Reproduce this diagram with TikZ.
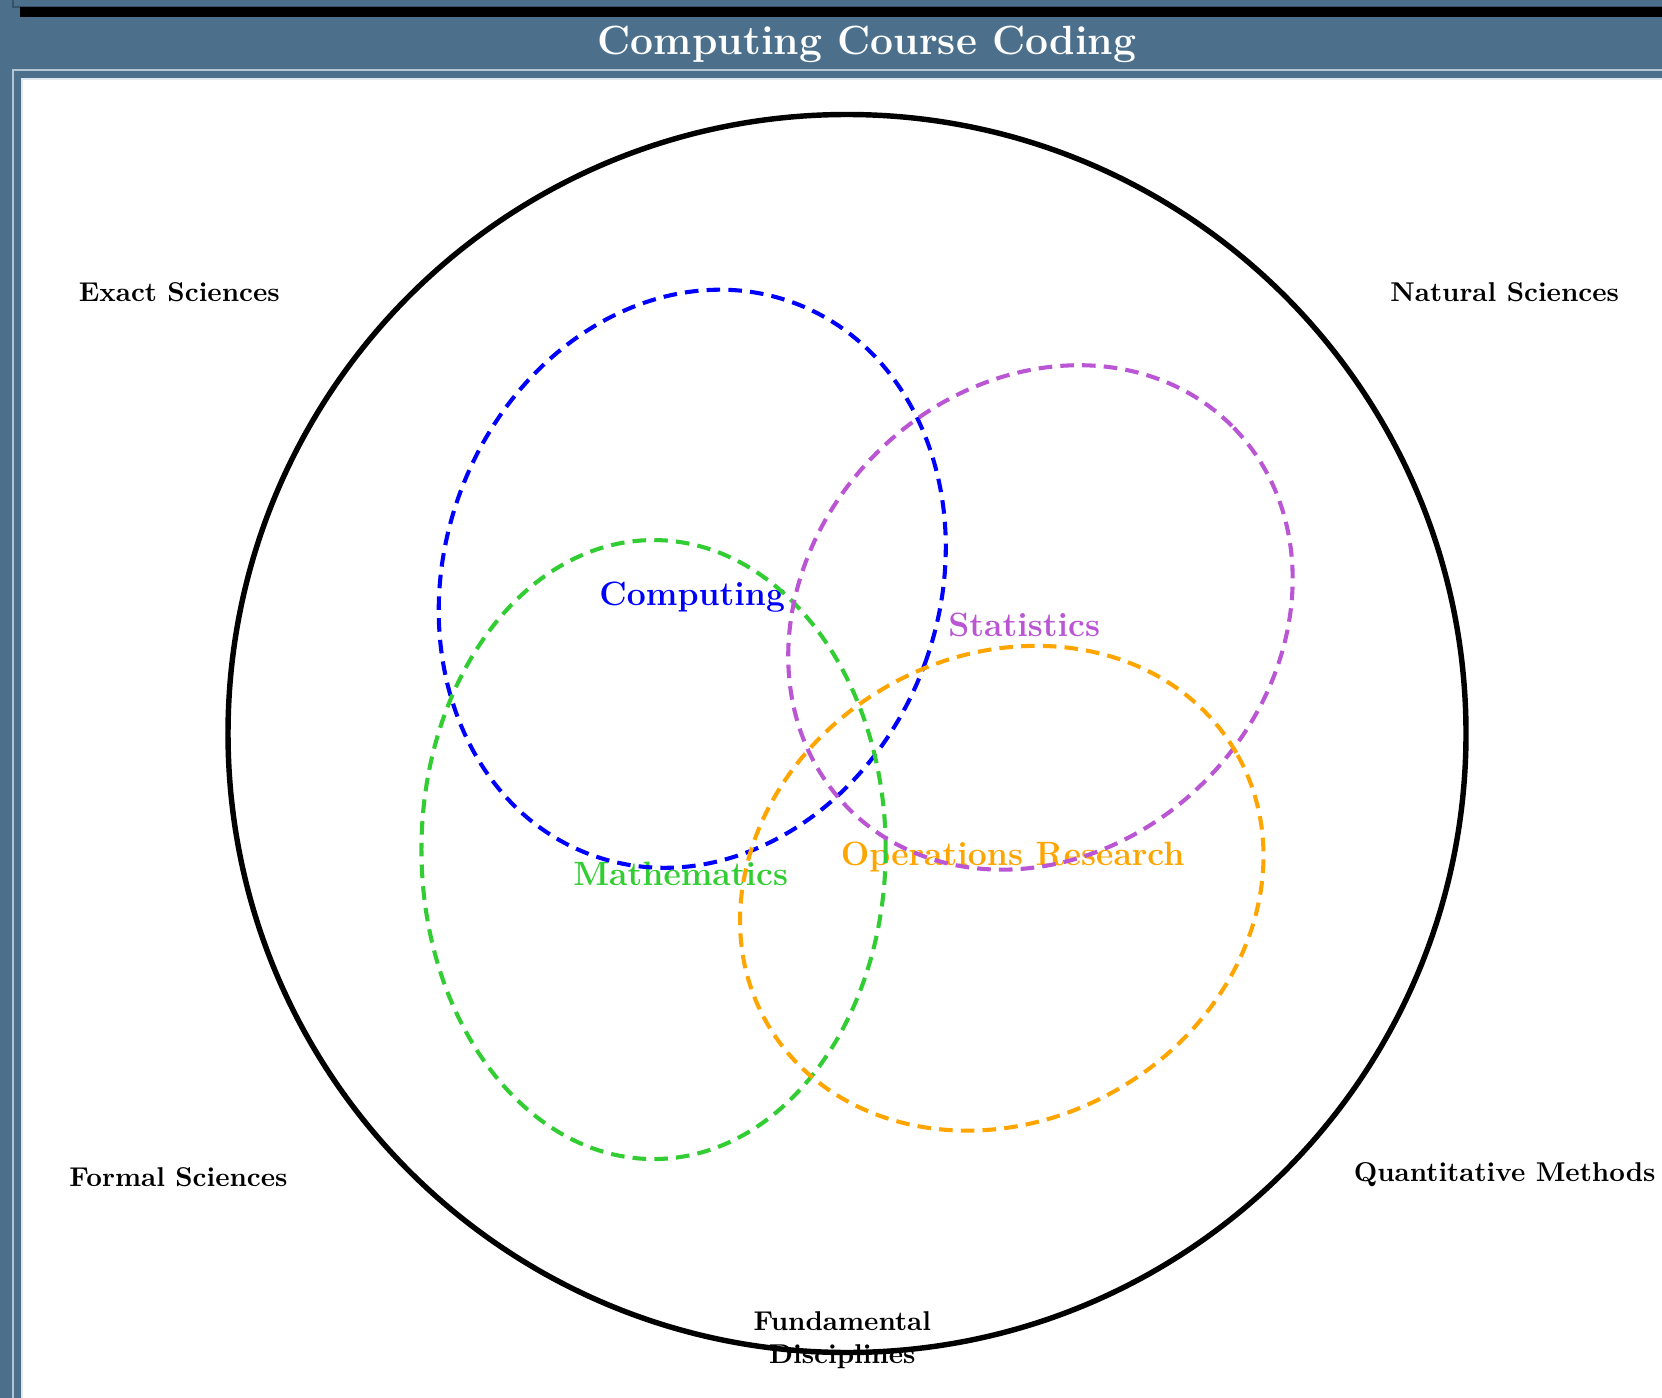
\documentclass[tikz,border=0pt]{standalone}
\usepackage{xcolor}
\usepackage{tikz}

\definecolor{bannerblue}{RGB}{76,112,140}
\definecolor{framedark}{RGB}{55,82,104}
\definecolor{framelight}{RGB}{178,198,212}
\definecolor{mathgreen}{RGB}{50,205,50}
\definecolor{statpurple}{RGB}{186,85,211}
\definecolor{ororange}{RGB}{255,165,0}

\begin{document}
\begin{tikzpicture}[
    field/.style={font=\bfseries},
    discipline/.style={font=\fontsize{12.4}{15}\selectfont\bfseries},
    area/.style={line width=1.5pt, dash pattern=on 5pt off 3pt}
]
    % Page size
    \useasboundingbox (-10.947,-8.588) rectangle (10.533,9.480);

    % Frame and title banner
    \fill[bannerblue] (-10.947,-8.588) rectangle (10.533,9.480);
    \draw[framedark, line width=0.6pt] (-10.779,9.480) -- (-10.779,9.390) -- (10.533,9.390);
    \fill[black] (-10.689,9.386) rectangle (10.533,9.260);
    \draw[framelight, line width=0.6pt] (-10.779,-8.588) -- (-10.779,8.575) -- (10.533,8.575);
    \fill[white] (-10.663,-8.588) rectangle (10.533,8.459);
    \draw[framelight!40!white, line width=0.4pt] (-10.663,-8.588) -- (-10.663,8.459) -- (10.533,8.459);
    \node[text=white, font=\fontsize{15}{18}\selectfont\bfseries] (title) at (0.26,8.9) {Computing Course Coding};

    % Outer circle
    \draw[line width=2pt] (0,0) circle (8cm);

    % Surrounding fields
    \node[field] (exact) at (-8.63,5.7) {Exact Sciences};
    \node[field] (natural) at (8.5,5.7) {Natural Sciences};
    \node[field] (formal) at (-8.64,-5.74) {Formal Sciences};
    \node[field] (quant) at (8.5,-5.7) {Quantitative Methods};
    \node[field, align=center] (fund) at (-0.06,-7.84) {Fundamental\\Disciplines};

    % Discipline labels
    \node[discipline, text=blue] (comp) at (-2,1.76) {Computing};
    \node[discipline, text=statpurple] (stats) at (2.29,1.4) {Statistics};
    \node[discipline, text=mathgreen] (math) at (-2.15,-1.82) {Mathematics};
    \node[discipline, text=ororange] (opres) at (2.14,-1.6) {Operations Research};

    % Discipline areas
    \draw[area, blue] (-2,2) ellipse [x radius=3.2, y radius=3.8, rotate=-20];
    \draw[area, mathgreen] (-2.5,-1.5) ellipse [x radius=3, y radius=4];
    \draw[area, statpurple] (2.5,1.5) ellipse [x radius=3.5, y radius=3, rotate=45];
    \draw[area, ororange] (2,-2) ellipse [x radius=3.5, y radius=3, rotate=30];
\end{tikzpicture}
\end{document}
